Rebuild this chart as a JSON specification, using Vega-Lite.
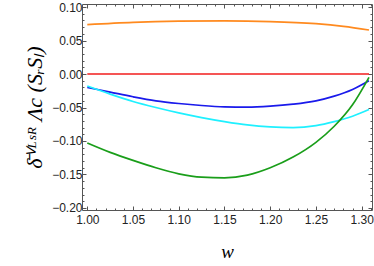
{
  "$schema": "https://vega.github.io/schema/vega-lite/v6.json",
  "width": 290,
  "height": 206,
  "autosize": "none",
  "padding": {"left": 82, "top": 4, "right": 2, "bottom": 56},
  "config": {
    "view": {"stroke": "#555555", "strokeWidth": 1},
    "axis": {"domain": false, "grid": false, "labelFont": "Liberation Sans", "labelFontSize": 12, "labelColor": "#222222", "tickColor": "#555555", "tickWidth": 1}
  },
  "data": {"values": [
    {"s": "red", "w": 1.00, "v": 0.0},
    {"s": "red", "w": 1.308, "v": 0.0},
    {"s": "orange", "w": 1.00, "v": 0.0738},
    {"s": "orange", "w": 1.05, "v": 0.0772},
    {"s": "orange", "w": 1.10, "v": 0.0788},
    {"s": "orange", "w": 1.15, "v": 0.0792},
    {"s": "orange", "w": 1.20, "v": 0.0783},
    {"s": "orange", "w": 1.25, "v": 0.0752},
    {"s": "orange", "w": 1.28, "v": 0.0712},
    {"s": "orange", "w": 1.308, "v": 0.0657},
    {"s": "blue", "w": 1.00, "v": -0.020},
    {"s": "blue", "w": 1.025, "v": -0.027},
    {"s": "blue", "w": 1.05, "v": -0.034},
    {"s": "blue", "w": 1.075, "v": -0.040},
    {"s": "blue", "w": 1.10, "v": -0.044},
    {"s": "blue", "w": 1.125, "v": -0.047},
    {"s": "blue", "w": 1.15, "v": -0.049},
    {"s": "blue", "w": 1.175, "v": -0.0495},
    {"s": "blue", "w": 1.20, "v": -0.048},
    {"s": "blue", "w": 1.225, "v": -0.045},
    {"s": "blue", "w": 1.25, "v": -0.040},
    {"s": "blue", "w": 1.27, "v": -0.033},
    {"s": "blue", "w": 1.29, "v": -0.023},
    {"s": "blue", "w": 1.308, "v": -0.010},
    {"s": "cyan", "w": 1.00, "v": -0.018},
    {"s": "cyan", "w": 1.025, "v": -0.030},
    {"s": "cyan", "w": 1.05, "v": -0.041},
    {"s": "cyan", "w": 1.075, "v": -0.050},
    {"s": "cyan", "w": 1.10, "v": -0.058},
    {"s": "cyan", "w": 1.125, "v": -0.065},
    {"s": "cyan", "w": 1.15, "v": -0.071},
    {"s": "cyan", "w": 1.175, "v": -0.076},
    {"s": "cyan", "w": 1.20, "v": -0.079},
    {"s": "cyan", "w": 1.225, "v": -0.080},
    {"s": "cyan", "w": 1.25, "v": -0.077},
    {"s": "cyan", "w": 1.27, "v": -0.071},
    {"s": "cyan", "w": 1.29, "v": -0.063},
    {"s": "cyan", "w": 1.308, "v": -0.053},
    {"s": "green", "w": 1.00, "v": -0.103},
    {"s": "green", "w": 1.025, "v": -0.117},
    {"s": "green", "w": 1.05, "v": -0.129},
    {"s": "green", "w": 1.075, "v": -0.140},
    {"s": "green", "w": 1.10, "v": -0.149},
    {"s": "green", "w": 1.125, "v": -0.154},
    {"s": "green", "w": 1.15, "v": -0.155},
    {"s": "green", "w": 1.175, "v": -0.151},
    {"s": "green", "w": 1.20, "v": -0.140},
    {"s": "green", "w": 1.225, "v": -0.124},
    {"s": "green", "w": 1.25, "v": -0.102},
    {"s": "green", "w": 1.27, "v": -0.078},
    {"s": "green", "w": 1.29, "v": -0.046},
    {"s": "green", "w": 1.308, "v": -0.005}
  ]},
  "layer": [
    {
      "mark": {"type": "line", "strokeWidth": 1.7, "interpolate": "monotone"},
      "encoding": {
        "x": {"field": "w", "type": "quantitative",
          "scale": {"domain": [0.9942, 1.3113], "nice": false, "zero": false},
          "axis": {"orient": "bottom", "title": "w", "titleFont": "Liberation Serif", "titleFontStyle": "italic", "titleFontWeight": "normal", "titleFontSize": 19, "titleColor": "#000000", "titlePadding": 15,
            "values": [1.0,1.01,1.02,1.03,1.04,1.05,1.06,1.07,1.08,1.09,1.1,1.11,1.12,1.13,1.14,1.15,1.16,1.17,1.18,1.19,1.2,1.21,1.22,1.23,1.24,1.25,1.26,1.27,1.28,1.29,1.3,1.31],
            "format": ".2f",
            "labelExpr": "abs(datum.value*20 - round(datum.value*20)) < 0.001 ? datum.label : ''",
            "tickSize": {"condition": {"test": "abs(datum.value*20 - round(datum.value*20)) < 0.001", "value": -4}, "value": -2},
            "labelPadding": 8, "labelFlush": false, "labelOverlap": false}},
        "y": {"field": "v", "type": "quantitative",
          "scale": {"domain": [-0.2030, 0.1045], "nice": false, "zero": false},
          "axis": {"orient": "left", "title": "δ̄ⱽᴸˢᴿ Λc (SᵣSₗ)", "titleFont": "Liberation Serif", "titleFontStyle": "italic", "titleFontWeight": "normal", "titleFontSize": 22, "titleColor": "#000000", "titlePadding": 5,
            "values": [-0.2,-0.19,-0.18,-0.17,-0.16,-0.15,-0.14,-0.13,-0.12,-0.11,-0.1,-0.09,-0.08,-0.07,-0.06,-0.05,-0.04,-0.03,-0.02,-0.01,0,0.01,0.02,0.03,0.04,0.05,0.06,0.07,0.08,0.09,0.1],
            "format": ".2f",
            "labelExpr": "abs(datum.value*20 - round(datum.value*20)) < 0.001 ? datum.label : ''",
            "tickSize": {"condition": {"test": "abs(datum.value*20 - round(datum.value*20)) < 0.001", "value": -4}, "value": -2},
            "labelPadding": 4, "labelFlush": false, "labelOverlap": false}},
        "color": {"field": "s", "type": "nominal",
          "scale": {"domain": ["red", "orange", "blue", "cyan", "green"], "range": ["#f21c1c", "#ff8a1f", "#1a1aeb", "#1ff0ff", "#1a9e1a"]},
          "legend": null}
      }
    },
    {
      "mark": {"type": "line", "strokeOpacity": 0},
      "encoding": {
        "x": {"field": "w", "type": "quantitative",
          "scale": {"domain": [0.9942, 1.3113], "nice": false, "zero": false},
          "axis": {"orient": "top", "title": null, "labels": false,
            "values": [1.0,1.01,1.02,1.03,1.04,1.05,1.06,1.07,1.08,1.09,1.1,1.11,1.12,1.13,1.14,1.15,1.16,1.17,1.18,1.19,1.2,1.21,1.22,1.23,1.24,1.25,1.26,1.27,1.28,1.29,1.3,1.31],
            "tickSize": {"condition": {"test": "abs(datum.value*20 - round(datum.value*20)) < 0.001", "value": -4}, "value": -2}}},
        "y": {"field": "v", "type": "quantitative",
          "scale": {"domain": [-0.2030, 0.1045], "nice": false, "zero": false},
          "axis": {"orient": "right", "title": null, "labels": false,
            "values": [-0.2,-0.19,-0.18,-0.17,-0.16,-0.15,-0.14,-0.13,-0.12,-0.11,-0.1,-0.09,-0.08,-0.07,-0.06,-0.05,-0.04,-0.03,-0.02,-0.01,0,0.01,0.02,0.03,0.04,0.05,0.06,0.07,0.08,0.09,0.1],
            "tickSize": {"condition": {"test": "abs(datum.value*20 - round(datum.value*20)) < 0.001", "value": -4}, "value": -2}}},
        "detail": {"field": "s"}
      }
    }
  ],
  "resolve": {"axis": {"x": "independent", "y": "independent"}}
}
